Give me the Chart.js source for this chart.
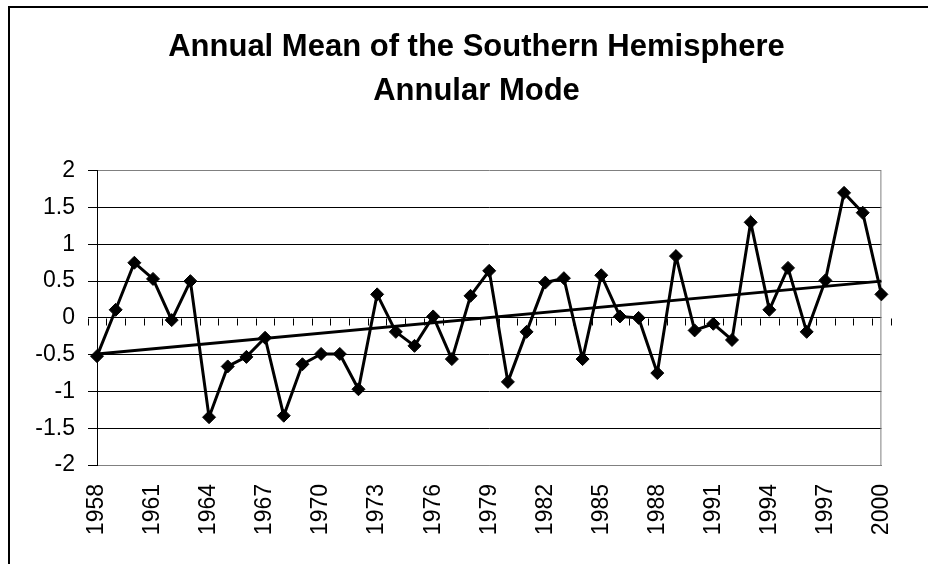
<!DOCTYPE html>
<html>
<head>
<meta charset="utf-8">
<title>Annual Mean of the Southern Hemisphere Annular Mode</title>
<script src="https://cdn.jsdelivr.net/npm/chart.js@4"></script>
<style>
  html, body { margin: 0; padding: 0; background: #fff; overflow: hidden; }
  #wrap { position: relative; width: 928px; height: 564px; }
  #frame { position: absolute; left: 8px; top: 6px; width: 1000px; height: 1000px;
           border-left: 2px solid #000; border-top: 2px solid #000; pointer-events: none; }
  canvas { position: absolute; left: 0; top: 0; }
</style>
</head>
<body>
<div id="wrap">
  <canvas id="sam" width="928" height="564"></canvas>
  <div id="frame"></div>
</div>
<script>
// SAM index, annual means
const years = ['1958','1959','1960','1961','1962','1963','1964','1965','1966','1967',
               '1968','1969','1970','1971','1972','1973','1974','1975','1976','1977',
               '1978','1979','1980','1981','1982','1983','1984','1985','1986','1987',
               '1988','1989','1990','1991','1992','1993','1994','1995','1996','1997',
               '1998','1999','2000'];
const samValues = [-0.52, 0.11, 0.75, 0.53, -0.03, 0.50, -1.35, -0.66, -0.53, -0.27,
                   -1.33, -0.63, -0.49, -0.49, -0.97, 0.32, -0.19, -0.38, 0.02, -0.56,
                    0.30, 0.64, -0.87, -0.19, 0.48, 0.54, -0.56, 0.58, 0.02, 0.00,
                   -0.75, 0.84, -0.17, -0.08, -0.30, 1.30, 0.11, 0.68, -0.19, 0.51,
                    1.70, 1.43, 0.32];
// linear trend, end values only
const trendYears = ['1958', '2000'];
const trendValues = [-0.49, 0.50];
const titleLines = ['Annual Mean of the Southern Hemisphere', 'Annular Mode'];

Chart.defaults.font.family = "'Liberation Sans', Arial, sans-serif";
Chart.defaults.color = '#000';

// gray right edge of the plot and little ticks hanging off the zero line
const excelBits = {
    id: 'excelBits',
    beforeDatasetsDraw(chart) {
        const ctx = chart.ctx;
        const area = chart.chartArea;
        const x = chart.scales.x;
        const y = chart.scales.y;
        ctx.save();
        ctx.strokeStyle = '#808080';
        ctx.lineWidth = 1;
        ctx.beginPath();
        ctx.moveTo(area.right - 0.5, area.top);
        ctx.lineTo(area.right - 0.5, area.bottom);
        ctx.stroke();

        const y0 = Math.round(y.getPixelForValue(0)) + 0.5;
        const step = x.getPixelForValue(1) - x.getPixelForValue(0);
        ctx.strokeStyle = '#000';
        ctx.beginPath();
        for (let i = 0; i <= years.length; i++) {
            const px = Math.round(x.getPixelForValue(i) - step / 2) + 0.5;
            ctx.moveTo(px, y0);
            ctx.lineTo(px, y0 + 7);
        }
        ctx.stroke();
        ctx.restore();
    }
};

new Chart(document.getElementById('sam'), {
    type: 'line',
    data: {
        labels: years,
        datasets: [
            {
                label: 'SAM',
                data: samValues,
                borderColor: '#000',
                backgroundColor: '#000',
                borderWidth: 3,
                tension: 0,
                pointStyle: 'rectRot',
                pointRadius: 6.5,
                pointBorderWidth: 1,
                pointBackgroundColor: '#000',
                pointBorderColor: '#000'
            },
            {
                label: 'Trend',
                data: trendYears.map((yr, i) => ({ x: yr, y: trendValues[i] })),
                borderColor: '#000',
                borderWidth: 3,
                pointRadius: 0,
                tension: 0
            }
        ]
    },
    options: {
        responsive: false,
        animation: false,
        devicePixelRatio: 1,
        layout: {
            padding: { left: 35, right: 10, top: 0, bottom: 29 }
        },
        scales: {
            x: {
                afterFit: (scale) => { scale.height = 70; },
                grid: { display: false, drawTicks: false },
                border: { display: true, color: '#808080', width: 1 },
                ticks: {
                    autoSkip: false,
                    maxRotation: 90,
                    minRotation: 90,
                    padding: 19,
                    font: { size: 23 },
                    callback: function(val, index) {
                        return index % 3 === 0 ? years[index] : '';
                    }
                }
            },
            y: {
                min: -2,
                max: 2,
                afterFit: (scale) => { scale.width = 62; },
                ticks: {
                    stepSize: 0.5,
                    padding: 13,
                    font: { size: 23 },
                    callback: (v) => String(Number(v))
                },
                grid: {
                    color: (c) => (c.tick && Math.abs(c.tick.value) === 2) ? '#808080' : '#000',
                    lineWidth: 1,
                    tickLength: 9,
                    tickColor: '#000'
                },
                border: { display: true, color: '#000', width: 1 }
            }
        },
        plugins: {
            legend: { display: false },
            tooltip: { enabled: false },
            title: {
                display: true,
                text: titleLines,
                color: '#000',
                font: { size: 31, weight: 'bold', lineHeight: 1.4 },
                padding: { top: 26, bottom: 58 }
            }
        }
    },
    plugins: [excelBits]
});
</script>
</body>
</html>
